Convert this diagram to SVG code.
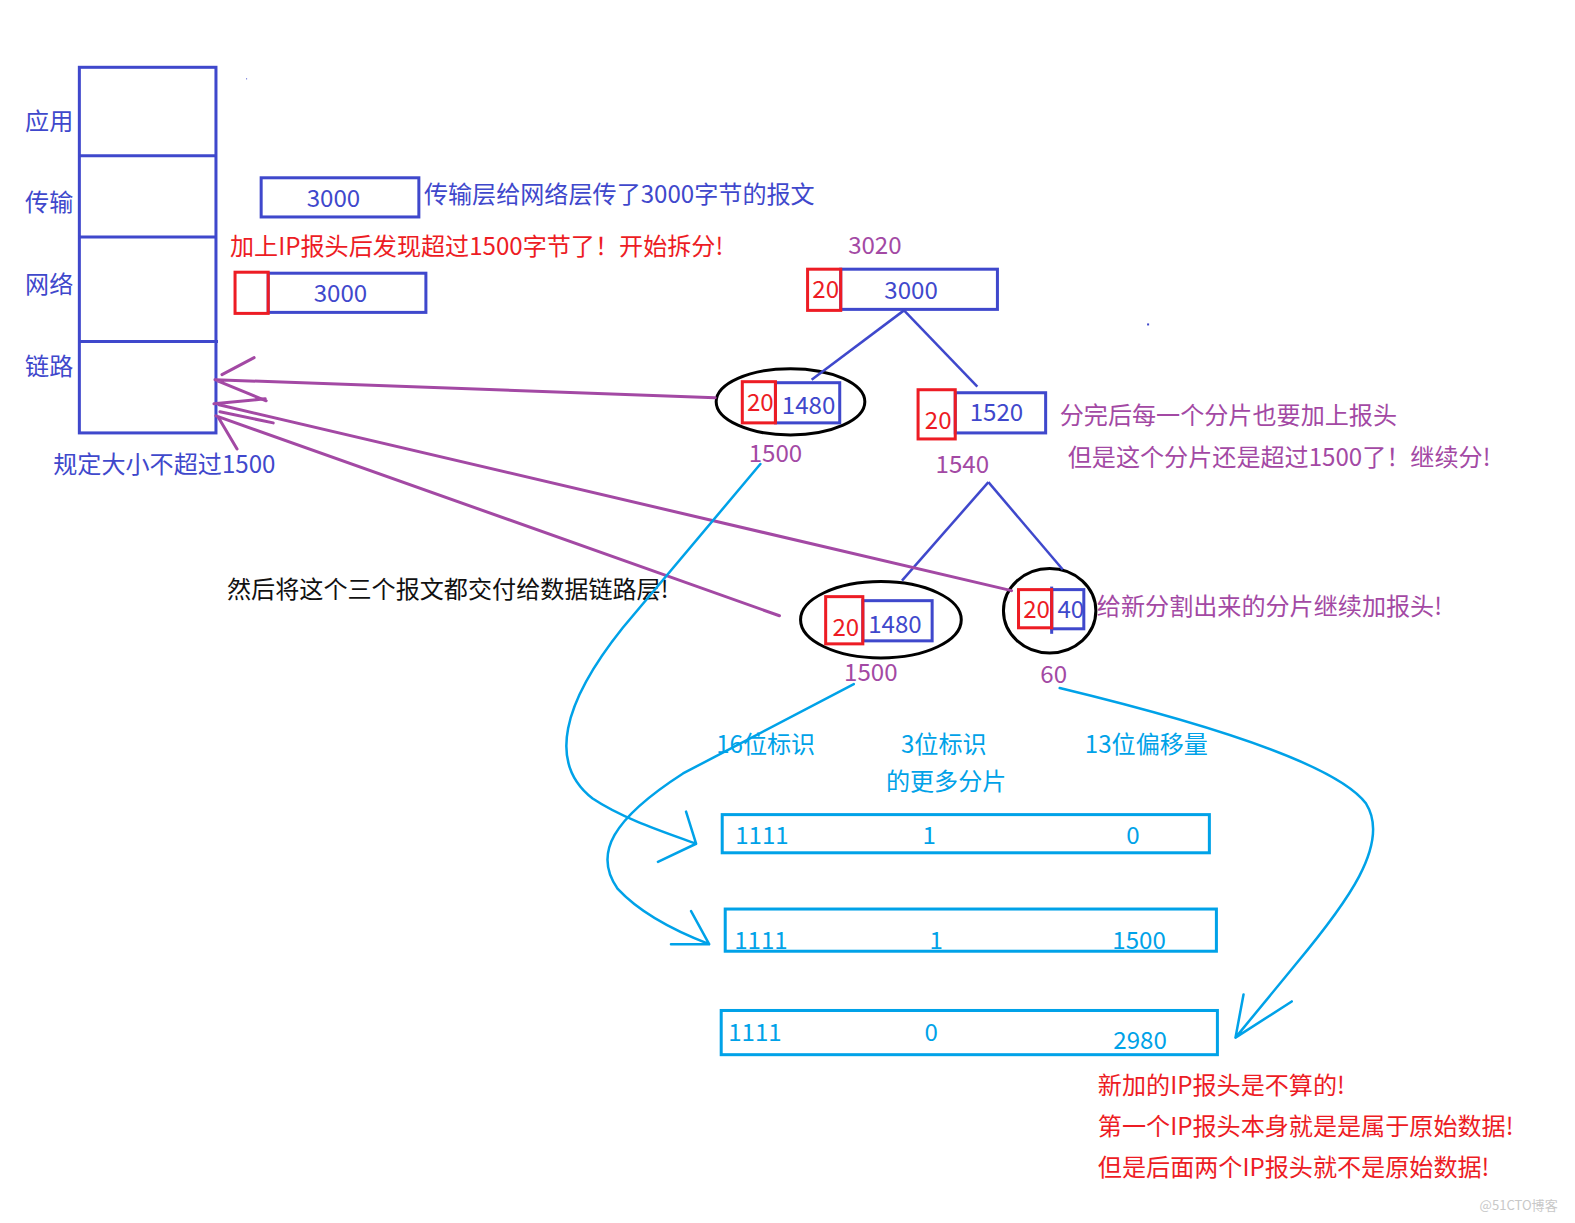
<svg xmlns="http://www.w3.org/2000/svg" width="1575" height="1223" viewBox="0 0 1575 1223">
<style>
text{font-family:"Noto Sans CJK SC","Microsoft YaHei",sans-serif;font-size:24px}
.b{fill:#3F48CC}.r{fill:#ED1C24}.p{fill:#A349A4}.lb{fill:#00A2E8}.k{fill:#111}
.bs{fill:none;stroke:#3F48CC;stroke-width:3}
.rs{fill:none;stroke:#ED1C24;stroke-width:3}
.ls{fill:none;stroke:#00A2E8;stroke-width:3}
.es{fill:none;stroke:#000;stroke-width:3}
.pl{fill:none;stroke:#A349A4;stroke-width:3;stroke-linecap:round}
.bl{fill:none;stroke:#3F48CC;stroke-width:2.5}
.cl{fill:none;stroke:#00A2E8;stroke-width:2.5;stroke-linecap:round;stroke-linejoin:round}
.m{text-anchor:middle}
</style>
<rect width="1575" height="1223" fill="#fff"/>
<g transform="scale(1.00446)">
<g id="stack">
<rect x="79" y="67" width="136" height="364" class="bs"/>
<line x1="79" y1="155" x2="215" y2="155" class="bs"/>
<line x1="78" y1="236" x2="215" y2="236" class="bs"/>
<line x1="79" y1="340" x2="217" y2="340" class="bs"/>
<text x="25" y="129" class="b">应用</text>
<text x="25" y="210" class="b">传输</text>
<text x="25" y="292" class="b">网络</text>
<text x="25" y="373" class="b">链路</text>
<text x="53" y="471" class="b">规定大小不超过1500</text>
<rect x="245" y="78" width="1" height="1" fill="#3F48CC"/>
</g>
<g id="transport-msg">
<rect x="260" y="177" width="157" height="39" class="bs"/>
<text x="332" y="206" class="b m">3000</text>
<text x="422" y="202" class="b">传输层给网络层传了3000字节的报文</text>
</g>
<g id="network-msg">
<text x="229" y="254" class="r">加上IP报头后发现超过1500字节了！开始拆分!</text>
<rect x="267" y="272" width="157" height="39" class="bs"/>
<rect x="234" y="271" width="33" height="41" class="rs"/>
<text x="339" y="301" class="b m">3000</text>
</g>
<g id="root">
<text x="871" y="253" class="p m">3020</text>
<rect x="837" y="268" width="156" height="40" class="bs"/>
<rect x="804" y="268" width="33" height="41" class="rs"/>
<text x="822" y="297" class="r m">20</text>
<text x="907" y="298" class="b m">3000</text>
</g>
<g id="frag1">
<ellipse cx="787" cy="400" rx="74" ry="33" class="es"/>
<rect x="772" y="381" width="64" height="40" class="bs"/>
<rect x="739" y="380" width="33" height="41" class="rs"/>
<text x="757" y="409" class="r m">20</text>
<text x="805" y="412" class="b m">1480</text>
<text x="772" y="460" class="p m">1500</text>
</g>
<g id="frag2">
<rect x="951" y="391" width="90" height="40" class="bs"/>
<rect x="914" y="388" width="37" height="49" class="rs"/>
<text x="934" y="427" class="r m">20</text>
<text x="992" y="419" class="b m">1520</text>
<text x="958" y="471" class="p m">1540</text>
<text x="1055" y="422" class="p">分完后每一个分片也要加上报头</text>
<text x="1063" y="464" class="p">但是这个分片还是超过1500了！继续分!</text>
<rect x="1142" y="322" width="2" height="2" fill="#3F48CC"/>
</g>
<g id="frag2a">
<ellipse cx="877" cy="617" rx="80" ry="38" class="es"/>
<rect x="859" y="598" width="69" height="40" class="bs"/>
<rect x="822" y="594" width="37" height="47" class="rs"/>
<text x="842" y="633" class="r m">20</text>
<text x="891" y="630" class="b m">1480</text>
<text x="867" y="678" class="p m">1500</text>
</g>
<g id="frag2b">
<ellipse cx="1045" cy="608" rx="46" ry="42" class="es"/>
<rect x="1047" y="587" width="32" height="39" class="bs"/>
<line x1="1047" y1="584" x2="1047" y2="631" class="bs"/>
<rect x="1014" y="587" width="33" height="38" class="rs"/>
<text x="1032" y="615" class="r m">20</text>
<text x="1066" y="615" class="b m">40</text>
<text x="1049" y="680" class="p m">60</text>
<text x="1092" y="612" class="p">给新分割出来的分片继续加报头!</text>
</g>
<g id="note-deliver">
<text x="226" y="595" class="k">然后将这个三个报文都交付给数据链路层!</text>
</g>
<g id="header-labels">
<text x="713" y="750" class="lb">16位标识</text>
<text x="897" y="750" class="lb">3位标识</text>
<text x="882" y="786" class="lb">的更多分片</text>
<text x="1080" y="750" class="lb">13位偏移量</text>
</g>
<g id="row1">
<rect x="719" y="811" width="485" height="38" class="ls"/>
<text x="732" y="840" class="lb">1111</text>
<text x="925" y="840" class="lb m">1</text>
<text x="1128" y="840" class="lb m">0</text>
</g>
<g id="row2">
<rect x="722" y="905" width="489" height="42" class="ls"/>
<text x="731" y="945" class="lb">1111</text>
<text x="932" y="945" class="lb m">1</text>
<text x="1134" y="945" class="lb m">1500</text>
</g>
<g id="row3">
<rect x="718" y="1006" width="494" height="44" class="ls"/>
<text x="725" y="1036" class="lb">1111</text>
<text x="927" y="1036" class="lb m">0</text>
<text x="1135" y="1044" class="lb m">2980</text>
</g>
<g id="note-bottom">
<text x="1093" y="1089" class="r">新加的IP报头是不算的!</text>
<text x="1093" y="1130" class="r">第一个IP报头本身就是是属于原始数据!</text>
<text x="1093" y="1171" class="r">但是后面两个IP报头就不是原始数据!</text>
<text x="1473" y="1205" fill="#c8c8c8" style="font-size:13px">@51CTO博客</text>
</g>
<g id="connectors">
<line x1="900" y1="309" x2="808" y2="378" class="bl"/>
<line x1="900" y1="309" x2="973" y2="385" class="bl"/>
<line x1="984" y1="480" x2="898" y2="578" class="bl"/>
<line x1="984" y1="480" x2="1058" y2="567" class="bl"/>
<path d="M253,356 L221,373 M214,378 L712,396 M216,379 L265,399" class="pl"/>
<path d="M213,402 L264,397 M218,403 L1007,588 M219,410 L272,421" class="pl"/>
<path d="M215,414 L776,613 M217,415 L236,447" class="pl"/>
<path d="M757,462 L620,625 C560,700 545,760 590,795 C620,815 660,828 693,840 M683,808 L693,840 L655,858" class="cl"/>
<path d="M850,681 L680,770 C610,815 590,850 615,885 C640,912 680,930 706,940 M688,907 L706,940 L668,940" class="cl"/>
<path d="M1055,685 C1200,720 1330,760 1360,800 C1385,840 1340,900 1290,960 L1230,1033 M1238,990 L1230,1033 L1286,997" class="cl"/>
</g>
</g>
</svg>
